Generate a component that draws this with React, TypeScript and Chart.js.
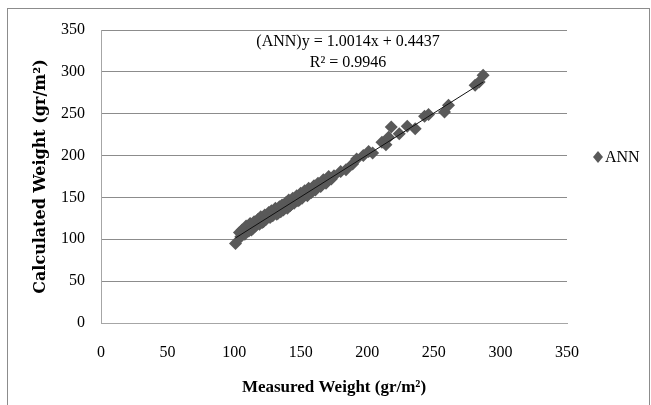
import React, { useEffect, useRef } from "react";
import { Chart, registerables } from "chart.js";

Chart.register(...registerables);

const seriesName = "ANN";
const measured = [101, 104, 105, 106, 108, 109, 111, 112, 113, 114, 115, 116, 118, 119, 120, 121, 122, 123, 124, 126, 127, 128, 129, 131, 132, 133, 134, 135, 136, 137, 139, 140, 141, 142, 143, 144, 145, 147, 148, 149, 150, 151, 153, 155, 156, 158, 160, 161, 163, 165, 167, 169, 171, 173, 175, 180, 184, 189, 192, 197, 201, 204, 211, 214, 216, 218, 224, 230, 236, 243, 246, 258, 261, 281, 284, 287];
const calculated = [95, 108, 103, 111, 106, 116, 110, 119, 111, 113, 121, 116, 124, 118, 127, 120, 121, 129, 124, 132, 126, 134, 128, 137, 130, 131, 139, 133, 141, 135, 144, 137, 147, 140, 142, 149, 143, 152, 146, 147, 155, 149, 158, 152, 161, 156, 164, 159, 167, 163, 171, 167, 175, 172, 176, 181, 183, 190, 196, 200, 205, 203, 216, 213, 222, 234, 226, 235, 232, 247, 249, 252, 260, 284, 288, 296];
const xTicks = [0, 50, 100, 150, 200, 250, 300, 350];
const yTicks = [0, 50, 100, 150, 200, 250, 300, 350];
const trendSlope = 1.0014;
const trendIntercept = 0.4437;
const rSquared = 0.9946;
const xTitle = "Measured Weight (gr/m\u00B2)";
const yTitle = "Calculated Weight (gr/m\u00B2)";

const SERIF = '"Liberation Serif", "DejaVu Serif", serif';
const markerColor = "#595959";

export default function App() {
  const ref = useRef<HTMLCanvasElement>(null);

  useEffect(() => {
    if (!ref.current) return;
    const points = measured.map((x, i) => ({ x, y: calculated[i] }));
    const xMin = Math.min(...measured);
    const xMax = Math.max(...measured);
    const trend = [xMin, xMax].map((x) => ({ x, y: trendSlope * x + trendIntercept }));

    const overlay = {
      id: "overlay",
      afterDraw(chart: any) {
        const ctx = chart.ctx as CanvasRenderingContext2D;
        const ca = chart.chartArea;
        ctx.save();
        // outer chart border
        ctx.strokeStyle = "#8c8c8c";
        ctx.lineWidth = 1;
        ctx.strokeRect(7.5, 8.5, 642, 420);
        // trendline equation
        const cx = (ca.left + ca.right) / 2 + 14;
        ctx.fillStyle = "#000";
        ctx.font = `16px ${SERIF}`;
        ctx.textAlign = "center";
        ctx.textBaseline = "middle";
        ctx.fillText(`(${seriesName})y = ${trendSlope}x + ${trendIntercept}`, cx, ca.top + 12);
        ctx.fillText(`R\u00B2 = ${rSquared}`, cx, ca.top + 33);
        // legend
        const lx = ca.right + 31;
        const ly = 157;
        ctx.fillStyle = markerColor;
        ctx.beginPath();
        ctx.moveTo(lx, ly - 6);
        ctx.lineTo(lx + 5, ly);
        ctx.lineTo(lx, ly + 6);
        ctx.lineTo(lx - 5, ly);
        ctx.closePath();
        ctx.fill();
        ctx.fillStyle = "#000";
        ctx.textAlign = "left";
        ctx.fillText(seriesName, lx + 7, ly + 1);
        ctx.restore();
      },
    };

    const chart = new Chart(ref.current, {
      type: "scatter",
      data: {
        datasets: [
          {
            label: seriesName,
            data: points,
            pointStyle: "rectRot",
            pointRadius: 6.5,
            pointBackgroundColor: markerColor,
            pointBorderColor: markerColor,
            pointBorderWidth: 0,
            order: 1,
          },
          {
            type: "line",
            label: "trend",
            data: trend,
            borderColor: "#111111",
            borderWidth: 1,
            pointRadius: 0,
            fill: false,
            order: 0,
          } as any,
        ],
      },
      options: {
        animation: false,
        responsive: false,
        maintainAspectRatio: false,
        layout: { padding: { left: 0, top: 30, right: 84, bottom: 0 } },
        plugins: { legend: { display: false }, tooltip: { enabled: false } },
        scales: {
          x: {
            type: "linear",
            min: xTicks[0],
            max: xTicks[xTicks.length - 1],
            afterBuildTicks: (s: any) => {
              s.ticks = xTicks.map((v) => ({ value: v }));
            },
            afterFit: (s: any) => {
              s.height = 82;
            },
            ticks: { color: "#000", font: { family: SERIF, size: 16 }, padding: 20 },
            grid: { color: "rgba(0,0,0,0)", drawTicks: false },
            border: { display: true, color: "#a6a6a6", width: 1 },
            title: {
              display: true,
              text: xTitle,
              color: "#000",
              font: { family: SERIF, size: 17, weight: "bold" },
              padding: { top: 0, bottom: 7 },
            },
          },
          y: {
            type: "linear",
            min: yTicks[0],
            max: yTicks[yTicks.length - 1],
            afterBuildTicks: (s: any) => {
              s.ticks = yTicks.map((v) => ({ value: v }));
            },
            afterFit: (s: any) => {
              s.width = 101;
            },
            ticks: { color: "#000", font: { family: SERIF, size: 16 }, padding: 16 },
            grid: { color: "#8c8c8c", drawTicks: false, lineWidth: 1 },
            border: { display: true, color: "#a6a6a6", width: 1 },
            title: {
              display: true,
              text: yTitle,
              color: "#000",
              font: { family: '"DejaVu Serif", serif', size: 16, weight: "bold" },
              padding: { top: 31, bottom: 0 },
            },
          },
        },
      },
      plugins: [overlay],
    } as any);
    return () => chart.destroy();
  }, []);

  return (
    <div style={{ position: "fixed", left: 0, top: 0, width: 651, height: 405, background: "#fff" }}>
      <canvas ref={ref} width={651} height={405} style={{ width: 651, height: 405 }} />
    </div>
  );
}
